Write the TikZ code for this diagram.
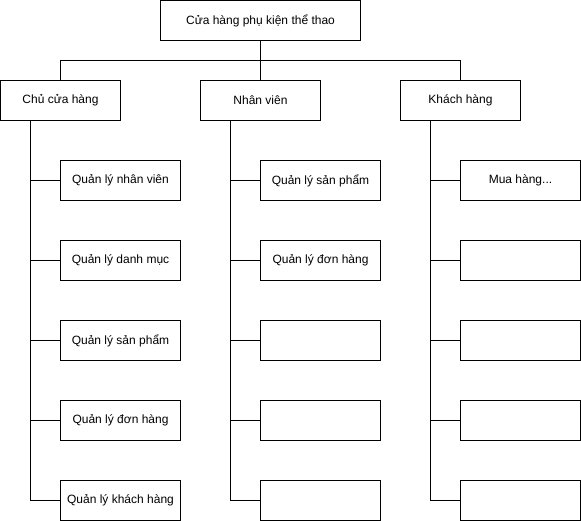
\documentclass[tikz,border=0pt]{standalone}
\usepackage{fontspec}
\setmainfont{Liberation Sans}
\begin{document}
\begin{tikzpicture}[x=1pt,y=-1pt,
  box/.style={draw=black,line width=1pt,minimum width=120pt,minimum height=40pt,inner sep=0pt,outer sep=0pt,font=\fontsize{12}{14}\selectfont,fill=white},
  topbox/.style={box,minimum width=200pt},
  conn/.style={draw=black,line width=1pt}]
\useasboundingbox (0,0) rectangle (581,521);
\node[topbox] (top) at (260.5,20.5) {Cửa hàng phụ kiện thể thao};
\node[box] (c1) at (60.5,100.5) {Chủ cửa hàng};
\node[box] (c2) at (260.5,100.5) {Nhân viên};
\node[box] (c3) at (460.5,100.5) {Khách hàng};
\coordinate (hub) at (260.5,60.5);
\draw[conn] (top.south) -- (hub);
\draw[conn] (hub) -| (c1.north);
\draw[conn] (hub) -| (c3.north);
\draw[conn] (hub) -- (c2.north);
% column 1
\node[box] (a1) at (120.5,180.5) {Quản lý nhân viên};
\node[box] (a2) at (120.5,260.5) {Quản lý danh mục};
\node[box] (a3) at (120.5,340.5) {Quản lý sản phẩm};
\node[box] (a4) at (120.5,420.5) {Quản lý đơn hàng};
\node[box] (a5) at (120.5,500.5) {Quản lý khách hàng};
% column 2
\node[box] (b1) at (320.5,180.5) {Quản lý sản phẩm};
\node[box] (b2) at (320.5,260.5) {Quản lý đơn hàng};
\node[box] (b3) at (320.5,340.5) {};
\node[box] (b4) at (320.5,420.5) {};
\node[box] (b5) at (320.5,500.5) {};
% column 3
\node[box] (d1) at (520.5,180.5) {Mua hàng...};
\node[box] (d2) at (520.5,260.5) {};
\node[box] (d3) at (520.5,340.5) {};
\node[box] (d4) at (520.5,420.5) {};
\node[box] (d5) at (520.5,500.5) {};
\foreach \p/\k in {c1/a,c2/b,c3/d}{
  \foreach \i in {1,...,5}{
    \draw[conn] ([xshift=30pt]\p.south west) |- (\k\i.west);
  }
}
\end{tikzpicture}
\end{document}
